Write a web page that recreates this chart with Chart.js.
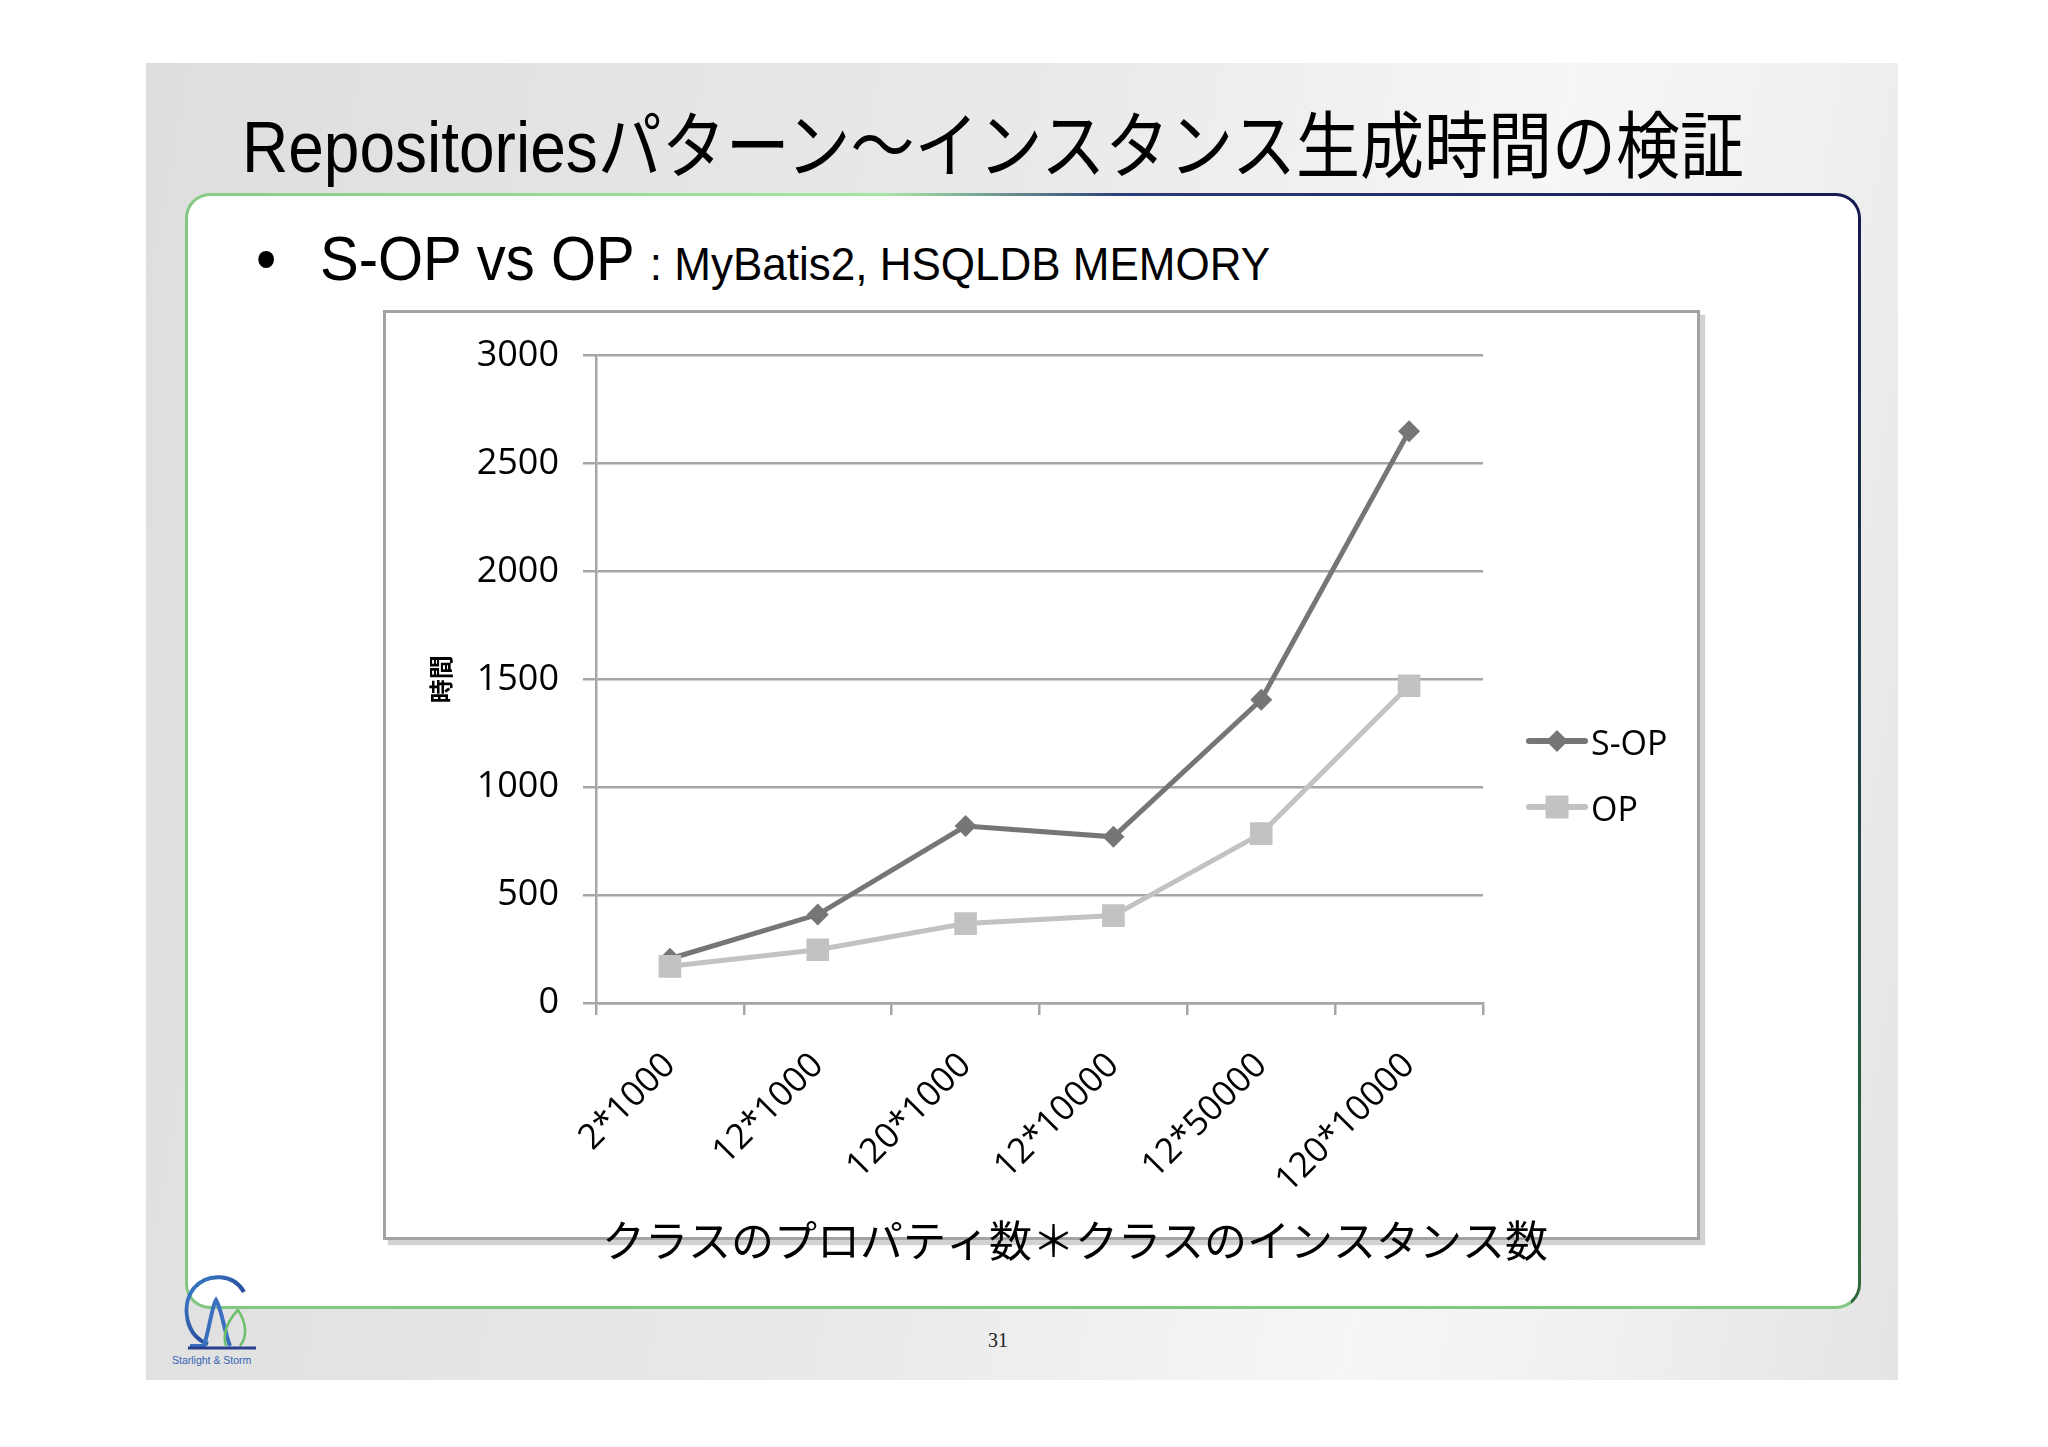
<!DOCTYPE html>
<html>
<head>
<meta charset="utf-8">
<script src="https://cdn.jsdelivr.net/npm/chart.js@4.4.1/dist/chart.umd.min.js"></script>
<style>
html, body { margin: 0; padding: 0; background: #fff; }
body { width: 2048px; height: 1447px; position: relative; overflow: hidden;
       font-family: "Liberation Sans", "Noto Sans CJK JP", sans-serif; }
#slide { position: absolute; left: 146px; top: 63px; width: 1752px; height: 1317px;
         background: linear-gradient(100deg, #dedede 0%, #e9e9e9 45%, #f6f6f6 72%, #f0f0f0 85%, #e4e4e4 100%); }
#title { position: absolute; left: 242px; top: 111px; font-size: 64px; line-height: 64px; color: #000;
         white-space: nowrap; transform: scaleY(1.13); transform-origin: left top; }
#boxBorder { position: absolute; left: 185px; top: 193px; width: 1676px; height: 1116px; border-radius: 25px;
             background:
               linear-gradient(to right, #86cc86 0%, #a6e6a6 42%, #2c3c78 56%, #151a52 100%) top / 100% 10px no-repeat,
               linear-gradient(to bottom, #151a52 0%, #1f3d4a 45%, #2f6a3a 100%) right / 10px 100% no-repeat,
               #82c682; }
#boxInner { position: absolute; left: 3px; top: 3px; right: 3px; bottom: 3px; border-radius: 22px; background: #fff; }
#bullet { position: absolute; left: 256px; top: 228px; font-size: 58px; line-height: 58px; transform: scaleY(1.07); transform-origin: left top; }
#sub { position: absolute; left: 320px; top: 228px; font-size: 58px; line-height: 58px; white-space: nowrap;
       transform: scaleY(1.07); transform-origin: left top; }
#sub span { font-size: 44px; }
#frame { position: absolute; left: 383px; top: 310px; width: 1317px; height: 930px; box-sizing: border-box;
         border: 3px solid #a3a3a3; box-shadow: 5px 5px 1px #d2d2d2; background: #fff; }
#chart { position: absolute; left: 383px; top: 310px; }
#page { position: absolute; left: 988px; top: 1329px; font-family: "Liberation Serif", serif; font-size: 20px; color: #222; }
#logo { position: absolute; left: 168px; top: 1266px; }
</style>
</head>
<body>
<div id="slide"></div>
<div id="title">Repositoriesパターン～インスタンス生成時間の検証</div>
<div id="boxBorder"><div id="boxInner"></div></div>
<div id="bullet">•</div>
<div id="sub">S-OP vs OP <span>: MyBatis2, HSQLDB MEMORY</span></div>
<div id="frame"></div>
<canvas id="chart" width="1316" height="980"></canvas>
<div id="page">31</div>
<svg id="logo" width="100" height="104" viewBox="0 0 100 104">
  <defs>
    <linearGradient id="lg1" x1="0" y1="0" x2="1" y2="1">
      <stop offset="0" stop-color="#3a7fc8"/><stop offset="0.6" stop-color="#2a4fa0"/><stop offset="1" stop-color="#3aa0a0"/>
    </linearGradient>
  </defs>
  <path d="M40 78 C18 70 12 40 26 22 C40 6 66 8 76 26" fill="none" stroke="url(#lg1)" stroke-width="4"/>
  <path d="M22 80 L36 80 C42 60 44 40 48 34 C54 44 56 64 62 80" fill="none" stroke="#3a6fc0" stroke-width="4"/>
  <path d="M58 80 C54 68 60 54 70 44 C78 56 80 70 72 80" fill="none" stroke="#6cc06c" stroke-width="2.5"/>
  <path d="M20 82 L88 82" stroke="#2a3f90" stroke-width="3"/>
  <text x="4" y="98" font-family="Liberation Sans" font-size="10.5" fill="#3264b4">Starlight &amp; Storm</text>
</svg>

<script>
// データ
const categories = ['2*1000', '12*1000', '120*1000', '12*10000', '12*50000', '120*10000'];
const sopValues = [205, 410, 820, 770, 1405, 2650];
const opValues = [170, 247, 368, 405, 785, 1470];
const yTicks = [0, 500, 1000, 1500, 2000, 2500, 3000];
const seriesNames = ['S-OP', 'OP'];
const xTitle = 'クラスのプロパティ数＊クラスのインスタンス数';
const yTitle = '時間';

const gridColor = '#a6a6a6';

// 凡例とX軸タイトル（キャンバスに描画）
const sideLegend = {
    id: 'sideLegend',
    afterDraw(chart) {
        const ctx = chart.ctx;
        const rows = [431, 497];
        ctx.save();
        chart.data.datasets.forEach((ds, i) => {
            const y = rows[i];
            ctx.strokeStyle = ds.borderColor;
            ctx.lineWidth = 6;
            ctx.lineCap = 'round';
            ctx.beginPath();
            ctx.moveTo(1146, y);
            ctx.lineTo(1202, y);
            ctx.stroke();
            ctx.fillStyle = ds.backgroundColor;
            ctx.beginPath();
            if (ds.pointStyle === 'rectRot') {
                const r = 11;
                ctx.moveTo(1174, y - r);
                ctx.lineTo(1174 + r, y);
                ctx.lineTo(1174, y + r);
                ctx.lineTo(1174 - r, y);
                ctx.closePath();
            } else {
                ctx.rect(1174 - 11.5, y - 11.5, 23, 23);
            }
            ctx.fill();
            ctx.fillStyle = '#000';
            ctx.font = '34px "Open Sans"';
            ctx.textAlign = 'left';
            ctx.textBaseline = 'middle';
            ctx.fillText(ds.label, 1208, y + 4);
        });
        ctx.font = '43px "Noto Sans CJK JP"';
        ctx.textAlign = 'center';
        ctx.textBaseline = 'middle';
        ctx.fillStyle = '#000';
        ctx.fillText(xTitle, 692, 931);
        ctx.restore();
    }
};

document.addEventListener('DOMContentLoaded', function() {
    const ctx = document.getElementById('chart').getContext('2d');
    new Chart(ctx, {
        type: 'line',
        data: {
            labels: categories,
            datasets: [{
                label: seriesNames[0],
                data: sopValues,
                borderColor: '#767676',
                backgroundColor: '#767676',
                borderWidth: 5,
                pointStyle: 'rectRot',
                pointRadius: 11,
                pointBorderWidth: 0,
                order: 1
            }, {
                label: seriesNames[1],
                data: opValues,
                borderColor: '#c2c2c2',
                backgroundColor: '#c2c2c2',
                borderWidth: 5,
                pointStyle: 'rect',
                pointRadius: 16,
                pointBorderWidth: 0,
                order: 0
            }]
        },
        options: {
            responsive: false,
            animation: false,
            devicePixelRatio: 1,
            layout: { padding: { left: 0, top: 39, right: 216, bottom: 0 } },
            plugins: {
                legend: { display: false },
                tooltip: { enabled: false }
            },
            scales: {
                x: {
                    offset: true,
                    afterFit: s => { s.height = 287; },
                    border: { color: gridColor, width: 2.5 },
                    grid: { offset: true, drawOnChartArea: false, tickLength: 12, color: gridColor, lineWidth: 2.5 },
                    ticks: {
                        minRotation: 45, maxRotation: 45, color: '#000', padding: 30,
                        font: { family: 'Open Sans', size: 35 }
                    }
                },
                y: {
                    min: 0,
                    max: 3000,
                    afterBuildTicks: s => { s.ticks = yTicks.map(v => ({ value: v })); },
                    afterFit: s => { s.width = 213; },
                    border: { color: gridColor, width: 2.5 },
                    grid: { color: gridColor, lineWidth: 2.5, tickLength: 13 },
                    ticks: {
                        color: '#000', padding: 24, font: { family: 'Open Sans', size: 36 },
                        callback: v => String(v)
                    },
                    title: {
                        display: true, text: yTitle, color: '#000',
                        font: { family: 'Noto Sans CJK JP', size: 24, weight: 'bold' },
                        padding: { top: 43, bottom: 0 }
                    }
                }
            }
        },
        plugins: [sideLegend]
    });
});
</script>
</body>
</html>
